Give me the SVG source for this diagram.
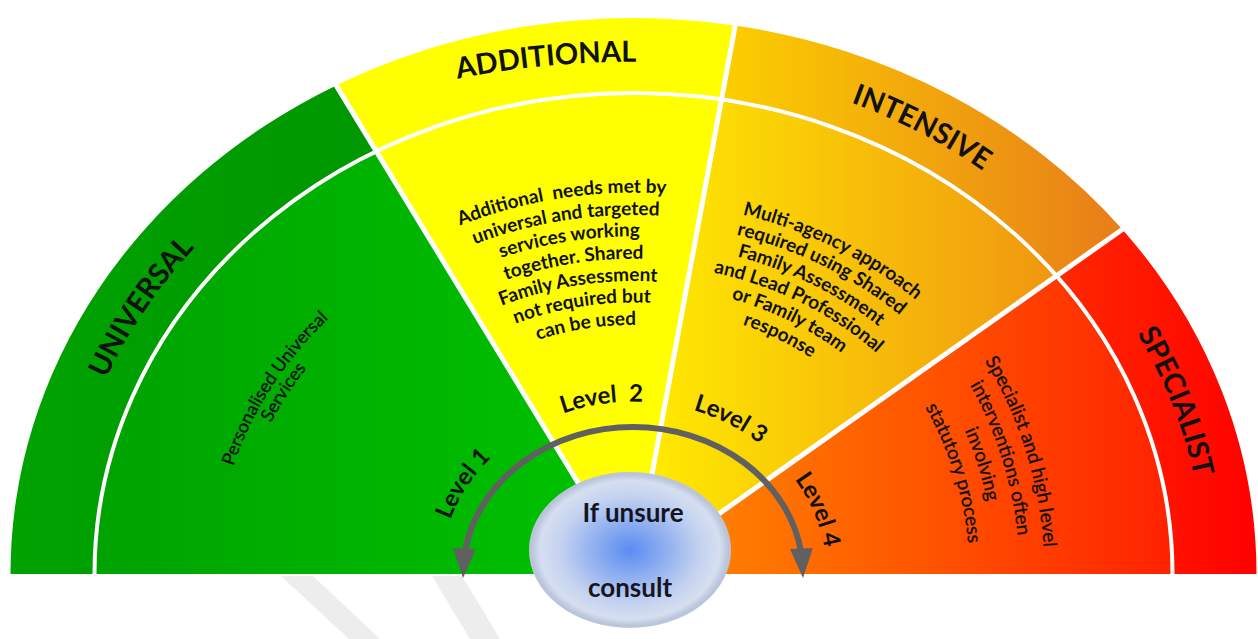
<svg xmlns="http://www.w3.org/2000/svg" width="1258" height="639" viewBox="0 0 1258 639">
<style>
.t{font-family:Lato,"Open Sans","DejaVu Sans",sans-serif;fill:#111}
.title{font-size:29px;font-weight:bold}
.lvl{font-size:24px;font-weight:bold}
.pb{font-size:19px;font-weight:bold}
.pr{font-size:18px;stroke:#111;stroke-width:0.35}
.ps{font-size:19px;stroke:#111;stroke-width:0.35}
.cs{font-size:26px;font-weight:bold;fill:#15151f}
.wl{stroke:#fff;fill:none}
.wm{fill:#ededed}
</style>
<defs>
<linearGradient id="gUni" gradientUnits="userSpaceOnUse" x1="10" y1="0" x2="380" y2="0"><stop offset="0" stop-color="#00a200"/><stop offset="1" stop-color="#009700"/></linearGradient>
<linearGradient id="gL1" gradientUnits="userSpaceOnUse" x1="95" y1="0" x2="580" y2="0"><stop offset="0" stop-color="#00a200"/><stop offset="1" stop-color="#00c000"/></linearGradient>
<linearGradient id="gInt" gradientUnits="userSpaceOnUse" x1="720" y1="0" x2="1140" y2="0"><stop offset="0" stop-color="#fcd000"/><stop offset="1" stop-color="#e7791a"/></linearGradient>
<linearGradient id="gL3" gradientUnits="userSpaceOnUse" x1="650" y1="0" x2="1060" y2="0"><stop offset="0" stop-color="#ffea00"/><stop offset="1" stop-color="#f09510"/></linearGradient>
<linearGradient id="gL4" gradientUnits="userSpaceOnUse" x1="720" y1="0" x2="1172" y2="0"><stop offset="0" stop-color="#ff7e00"/><stop offset="1" stop-color="#ff2200"/></linearGradient>
<linearGradient id="gSpec" gradientUnits="userSpaceOnUse" x1="1056" y1="0" x2="1257" y2="0"><stop offset="0" stop-color="#ff2800"/><stop offset="1" stop-color="#ff0000"/></linearGradient>
<radialGradient id="gCons" cx="0.5" cy="0.5" r="0.5"><stop offset="0" stop-color="#5a8cf2"/><stop offset="0.35" stop-color="#8eaef0"/><stop offset="0.7" stop-color="#c4d2f0"/><stop offset="0.9" stop-color="#d6dff0"/><stop offset="1" stop-color="#b4bfd6"/></radialGradient>
<path id="tpUni" d="M65.32,523.36 A571,509.9 0 0 1 311.72,152.77"/>
<path id="tpAdd" d="M399.1,92.4 A900,900 0 0 1 696.4,64.1"/>
<path id="tpInt" d="M688.23,66.45 A571,509.9 0 0 1 1104.08,285.19"/>
<path id="tpSpe" d="M1042.86,218.52 A571,509.9 0 0 1 1201.58,625.53"/>
<path id="tpL1" d="M441.36,590.22 A193,172.35 0 0 1 550.71,418.31"/>
<path id="tpL2" d="M497.99,451.28 A193,172.35 0 0 1 716.29,418.31"/>
<path id="tpL3" d="M617.69,402.23 A193,172.35 0 0 1 808.84,501.98"/>
<path id="tpL4" d="M743.09,432.13 A193,172.35 0 0 1 820.27,617.44"/>
<path id="a1" d="M359.03,281.91 A427,381.3 0 0 1 779.54,215.69"/>
<path id="a2" d="M375.10,298.99 A402,359 0 0 1 770.99,236.65"/>
<path id="a3" d="M390.53,315.38 A378,337.6 0 0 1 762.78,256.76"/>
<path id="a4" d="M406.60,332.54 A353,315.2 0 0 1 754.23,277.81"/>
<path id="a5" d="M422.66,349.63 A328,292.9 0 0 1 745.68,298.76"/>
<path id="a6" d="M438.09,366.02 A304,271.5 0 0 1 737.47,318.87"/>
<path id="a7" d="M454.16,383.18 A279,249.1 0 0 1 728.92,339.92"/>
<path id="m1" d="M629.13,201.62 A417,372.4 0 0 1 992.43,384.43"/>
<path id="m2" d="M629.38,222.52 A393.6,351.5 0 0 1 972.29,395.07"/>
<path id="m3" d="M629.62,243.42 A370.2,330.6 0 0 1 952.15,405.71"/>
<path id="m4" d="M629.87,264.32 A346.8,309.7 0 0 1 932.00,416.35"/>
<path id="m5" d="M630.11,285.21 A323.4,288.8 0 0 1 911.86,426.99"/>
<path id="m6" d="M630.36,306.11 A300,267.9 0 0 1 891.72,437.63"/>
<path id="s1" d="M911.17,270.98 A411,411 0 0 1 1034.76,662.96"/>
<path id="s2" d="M894.28,289.41 A386,386 0 0 1 1010.35,657.55"/>
<path id="s3" d="M877.39,307.84 A361,361 0 0 1 985.94,652.13"/>
<path id="s4" d="M860.50,326.27 A336,336 0 0 1 961.54,646.72"/>
<path id="p1" d="M215.52,577.91 A418,373.3 0 0 1 420.72,252.69"/>
<path id="p2" d="M233.52,577.74 A400,357.2 0 0 1 429.88,266.54"/>
</defs>

<g id="watermark">
<polygon class="wm" points="281,576 313,576 380,639 349,639"/>
<polygon class="wm" points="432,576 462,576 500,639 470,639"/>
</g>

<g id="band-universal">
<path d="M10.5,574 A623,556 0 0 1 336.2,85.4 L376.3,151.3 A539,481 0 0 0 94.5,574 Z" fill="url(#gUni)"/>
<text class="t title" text-anchor="middle"><textPath href="#tpUni" startOffset="50%">UNIVERSAL</textPath></text>
</g>
<g id="band-additional">
<path d="M336.2,85.4 A623,556 0 0 1 735.2,25.5 L721.5,99.4 A539,481 0 0 0 376.3,151.3 Z" fill="#ffff00"/>
<text class="t title" text-anchor="middle"><textPath href="#tpAdd" startOffset="50%">ADDITIONAL</textPath></text>
</g>
<g id="band-intensive">
<path d="M735.2,25.5 A623,556 0 0 1 1122.4,229.4 L1056.5,275.9 A539,481 0 0 0 721.5,99.4 Z" fill="url(#gInt)"/>
<text class="t title" text-anchor="middle"><textPath href="#tpInt" startOffset="50%">INTENSIVE</textPath></text>
</g>
<g id="band-specialist">
<path d="M1122.4,229.4 A623,556 0 0 1 1256.5,574 L1172.5,574 A539,481 0 0 0 1056.5,275.9 Z" fill="url(#gSpec)"/>
<text class="t title" text-anchor="middle"><textPath href="#tpSpe" startOffset="50%">SPECIALIST</textPath></text>
</g>

<g id="level1">
<path d="M633.5,574 L94.5,574 A539,481 0 0 1 376.3,151.3 Z" fill="url(#gL1)"/>
</g>
<g id="level2">
<path d="M633.5,574 L376.3,151.3 A539,481 0 0 1 721.5,99.4 Z" fill="#ffff00"/>
</g>
<g id="level3">
<path d="M633.5,574 L721.5,99.4 A539,481 0 0 1 1056.5,275.9 Z" fill="url(#gL3)"/>
</g>
<g id="level4">
<path d="M633.5,574 L1056.5,275.9 A539,481 0 0 1 1172.5,574 Z" fill="url(#gL4)"/>
</g>

<g id="dividers">
<path class="wl" stroke-width="4" d="M94.5,574 A539,481 0 0 1 1172.5,574"/>
<path class="wl" stroke-width="5" d="M333.6,81.1 L633.5,574 M736.1,20.6 L633.5,574 M1126.5,226.5 L633.5,574"/>
</g>

<g id="level1-text">
<text class="t pr" text-anchor="middle"><textPath href="#p1" startOffset="50%">Personalised Universal</textPath></text>
<text class="t pr" text-anchor="middle"><textPath href="#p2" startOffset="50%">Services</textPath></text>
<text class="t lvl" text-anchor="middle"><textPath href="#tpL1" startOffset="50%">Level 1</textPath></text>
</g>
<g id="level2-text">
<text class="t pb" text-anchor="middle" xml:space="preserve"><textPath href="#a1" startOffset="50%">Additional  needs met by</textPath></text>
<text class="t pb" text-anchor="middle"><textPath href="#a2" startOffset="50%">universal and targeted</textPath></text>
<text class="t pb" text-anchor="middle"><textPath href="#a3" startOffset="50%">services working</textPath></text>
<text class="t pb" text-anchor="middle"><textPath href="#a4" startOffset="50%">together. Shared</textPath></text>
<text class="t pb" text-anchor="middle"><textPath href="#a5" startOffset="50%">Family Assessment</textPath></text>
<text class="t pb" text-anchor="middle"><textPath href="#a6" startOffset="50%">not required but</textPath></text>
<text class="t pb" text-anchor="middle"><textPath href="#a7" startOffset="50%">can be used</textPath></text>
<text class="t lvl" text-anchor="middle" xml:space="preserve"><textPath href="#tpL2" startOffset="50%">Level  2</textPath></text>
</g>
<g id="level3-text">
<text class="t pb" text-anchor="middle"><textPath href="#m1" startOffset="50%">Multi-agency approach</textPath></text>
<text class="t pb" text-anchor="middle"><textPath href="#m2" startOffset="50%">required using Shared</textPath></text>
<text class="t pb" text-anchor="middle"><textPath href="#m3" startOffset="50%">Family Assessment</textPath></text>
<text class="t pb" text-anchor="middle"><textPath href="#m4" startOffset="50%">and Lead Professional</textPath></text>
<text class="t pb" text-anchor="middle"><textPath href="#m5" startOffset="50%">or Family team</textPath></text>
<text class="t pb" text-anchor="middle"><textPath href="#m6" startOffset="50%">response</textPath></text>
<text class="t lvl" text-anchor="middle"><textPath href="#tpL3" startOffset="50%">Level 3</textPath></text>
</g>
<g id="level4-text">
<text class="t ps" text-anchor="middle"><textPath href="#s1" startOffset="50%">Specialist and high level</textPath></text>
<text class="t ps" text-anchor="middle"><textPath href="#s2" startOffset="50%">interventions often</textPath></text>
<text class="t ps" text-anchor="middle"><textPath href="#s3" startOffset="50%">involving</textPath></text>
<text class="t ps" text-anchor="middle"><textPath href="#s4" startOffset="50%">statutory process</textPath></text>
<text class="t lvl" text-anchor="middle"><textPath href="#tpL4" startOffset="50%">Level 4</textPath></text>
</g>

<g id="connectors">
<path d="M464.9,552 A170,147 0 0 1 801.1,552" fill="none" stroke="#606060" stroke-width="6"/>
<polygon points="453,548 476,549 463,578" fill="#606060"/>
<polygon points="790,549 813,548 803,578" fill="#606060"/>
</g>

<g id="consult">
<ellipse cx="630" cy="550" rx="100" ry="77" fill="url(#gCons)" stroke="#bcc5da" stroke-width="2"/>
<text class="t cs" x="633" y="522" text-anchor="middle">If unsure</text>
<text class="t cs" x="630" y="597" text-anchor="middle">consult</text>
</g>
</svg>
